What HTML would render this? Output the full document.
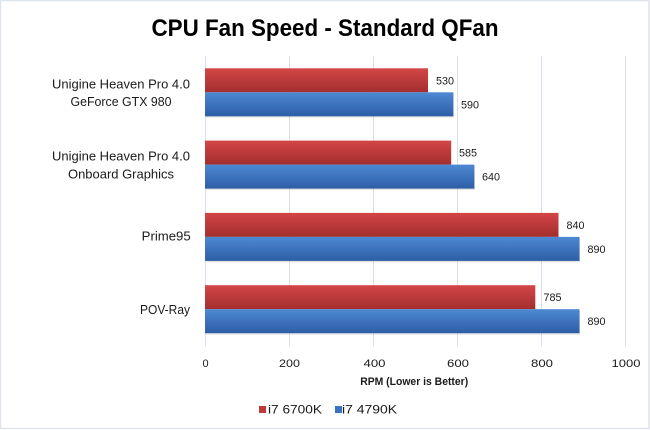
<!DOCTYPE html>
<html><head><meta charset="utf-8"><style>
html,body{margin:0;padding:0;background:#fff;}
svg{display:block;}
text{font-family:"Liberation Sans",sans-serif;fill:#1a1a1a;}
</style></head><body>
<svg width="650" height="430" viewBox="0 0 650 430" xmlns="http://www.w3.org/2000/svg">
<defs>
<linearGradient id="r" x1="0" y1="0" x2="0" y2="1">
<stop offset="0" stop-color="#d44646"/><stop offset="1" stop-color="#a32e2e"/>
</linearGradient>
<linearGradient id="b" x1="0" y1="0" x2="0" y2="1">
<stop offset="0" stop-color="#4d89d3"/><stop offset="1" stop-color="#2d5ea6"/>
</linearGradient>
</defs>
<rect x="0.5" y="0.5" width="648.5" height="428" fill="#fff" stroke="#dde4ec" stroke-width="1.5"/>
<text x="325" y="36" text-anchor="middle" font-size="24" font-weight="bold" textLength="347" lengthAdjust="spacingAndGlyphs" style="fill:#000">CPU Fan Speed - Standard QFan</text>
<g stroke="#d6e1eb" stroke-width="1">
<line x1="205.5" y1="56" x2="205.5" y2="346"/>
<line x1="289.5" y1="56" x2="289.5" y2="346"/>
<line x1="373.5" y1="56" x2="373.5" y2="346"/>
<line x1="457.5" y1="56" x2="457.5" y2="346"/>
<line x1="541.5" y1="56" x2="541.5" y2="346"/>
<line x1="625.5" y1="56" x2="625.5" y2="346"/>
</g>
<g fill="#000" opacity="0.12">
<rect x="206" y="93.5" width="248" height="24"/>
<rect x="206" y="165.8" width="269" height="24"/>
<rect x="206" y="238.1" width="374" height="24"/>
<rect x="206" y="310.4" width="374" height="24"/>
</g>
<rect x="205" y="68.3" width="223" height="24" fill="url(#r)"/>
<rect x="205" y="92.3" width="248.3" height="24" fill="url(#b)"/>
<rect x="205" y="140.6" width="246.2" height="24" fill="url(#r)"/>
<rect x="205" y="164.6" width="269.3" height="24" fill="url(#b)"/>
<rect x="205" y="212.9" width="353.5" height="24" fill="url(#r)"/>
<rect x="205" y="236.9" width="374.5" height="24" fill="url(#b)"/>
<rect x="205" y="285.2" width="330.3" height="24" fill="url(#r)"/>
<rect x="205" y="309.2" width="374.5" height="24" fill="url(#b)"/>
<g font-size="11">
<text x="436" y="84.3" textLength="18" lengthAdjust="spacingAndGlyphs">530</text>
<text x="461" y="108.3" textLength="18" lengthAdjust="spacingAndGlyphs">590</text>
<text x="459" y="156.6" textLength="18" lengthAdjust="spacingAndGlyphs">585</text>
<text x="482" y="180.6" textLength="18" lengthAdjust="spacingAndGlyphs">640</text>
<text x="566.5" y="228.9" textLength="18" lengthAdjust="spacingAndGlyphs">840</text>
<text x="587.5" y="252.9" textLength="18" lengthAdjust="spacingAndGlyphs">890</text>
<text x="543.5" y="301.2" textLength="18" lengthAdjust="spacingAndGlyphs">785</text>
<text x="587.5" y="325.2" textLength="18" lengthAdjust="spacingAndGlyphs">890</text>
</g>
<g font-size="12.5">
<text x="121" y="88.3" text-anchor="middle" textLength="138" lengthAdjust="spacingAndGlyphs">Unigine Heaven Pro 4.0</text>
<text x="121" y="106" text-anchor="middle" textLength="101" lengthAdjust="spacingAndGlyphs">GeForce GTX 980</text>
<text x="121" y="160.6" text-anchor="middle" textLength="138" lengthAdjust="spacingAndGlyphs">Unigine Heaven Pro 4.0</text>
<text x="121" y="178.3" text-anchor="middle" textLength="106" lengthAdjust="spacingAndGlyphs">Onboard Graphics</text>
<text x="166.2" y="240.7" text-anchor="middle" textLength="49" lengthAdjust="spacingAndGlyphs">Prime95</text>
<text x="165" y="314" text-anchor="middle" textLength="50" lengthAdjust="spacingAndGlyphs">POV-Ray</text>
</g>
<g font-size="11" text-anchor="middle">
<text x="205.5" y="367">0</text>
<text x="289.5" y="367" textLength="21" lengthAdjust="spacingAndGlyphs">200</text>
<text x="374.5" y="367" textLength="22" lengthAdjust="spacingAndGlyphs">400</text>
<text x="458" y="367" textLength="22" lengthAdjust="spacingAndGlyphs">600</text>
<text x="542" y="367" textLength="22" lengthAdjust="spacingAndGlyphs">800</text>
<text x="626" y="367" textLength="29" lengthAdjust="spacingAndGlyphs">1000</text>
</g>
<text x="414.2" y="385" text-anchor="middle" font-size="11" font-weight="bold" textLength="108" lengthAdjust="spacingAndGlyphs">RPM (Lower is Better)</text>
<rect x="259" y="406" width="7" height="7" fill="#c03a3a"/>
<text x="268" y="413.3" font-size="12" textLength="54" lengthAdjust="spacingAndGlyphs">i7 6700K</text>
<rect x="335" y="406" width="7" height="7" fill="#3b72bf"/>
<text x="342" y="413.3" font-size="12" textLength="55" lengthAdjust="spacingAndGlyphs">i7 4790K</text>
</svg>
</body></html>
